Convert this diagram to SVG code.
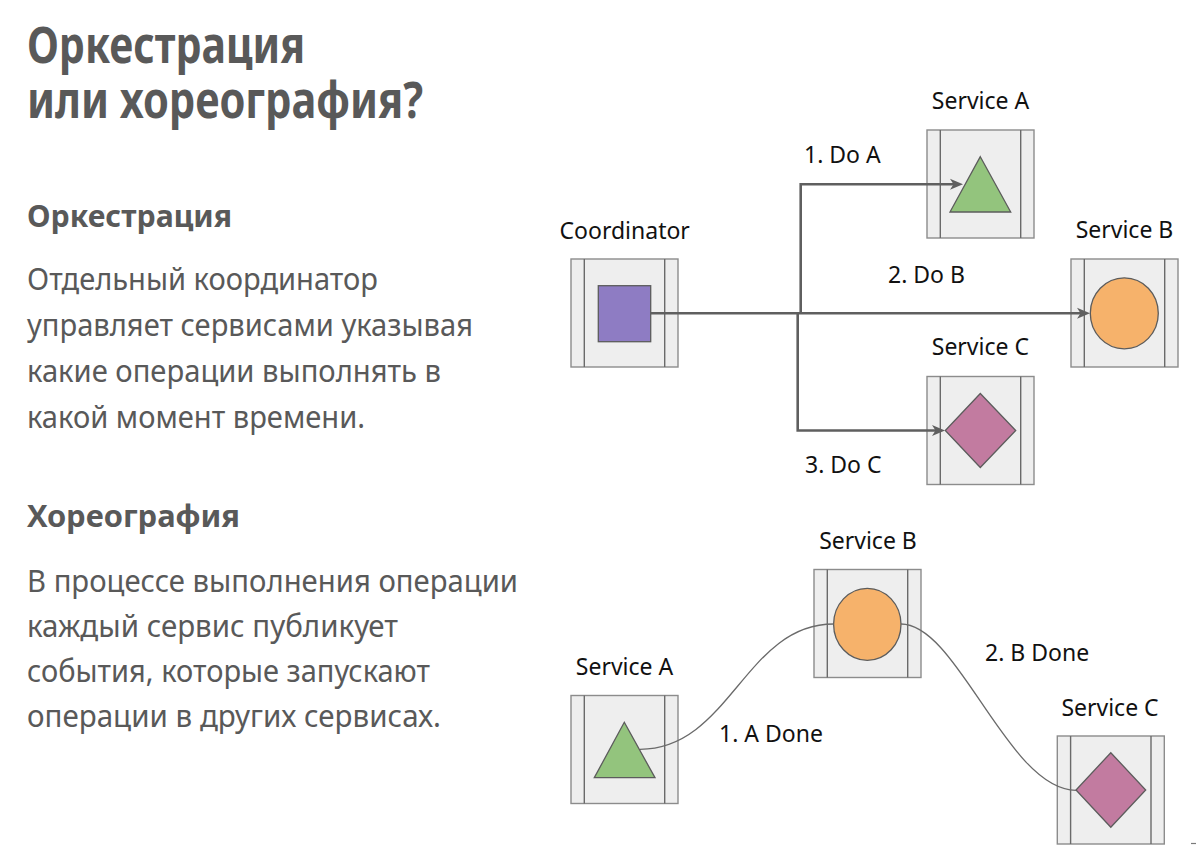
<svg xmlns="http://www.w3.org/2000/svg" width="1198" height="851" viewBox="0 0 1198 851">
  <style>
    .title { font-family: "Noto Sans", "Open Sans", sans-serif; font-weight: 700; font-size: 50px; fill: #595959; }
    .head { font-family: "Noto Sans", "Open Sans", sans-serif; font-weight: 700; font-size: 30px; fill: #595959; }
    .body { font-family: "Noto Sans", "Open Sans", sans-serif; font-size: 30px; fill: #595959; }
    .lbl { font-family: "Noto Sans", "Open Sans", sans-serif; font-size: 23px; fill: #111111; }
    .mid { text-anchor: middle; }
    .frame { fill: #eeeeee; stroke: #8c8c8c; stroke-width: 1.4; }
    .rail { stroke: #6a6a6a; stroke-width: 1.4; fill: none; }
    .shape { stroke: #5c5c5c; stroke-width: 1.3; }
    .cmd { fill: none; stroke: #5f5f5f; stroke-width: 2.6; }
    .evt { fill: none; stroke: #6a6a6a; stroke-width: 1.3; }
  </style>
  <defs>
    <marker id="arrow" markerUnits="userSpaceOnUse" markerWidth="14" markerHeight="12" refX="7" refY="6" orient="auto">
      <path d="M0,0.5 L13,6 L0,11.5 L3.5,6 z" fill="#5f5f5f"/>
    </marker>
    <!-- service container: light panel with two vertical rails -->
    <g id="svcFrame">
      <rect class="frame" x="0" y="0" width="107" height="108"/>
      <line class="rail" x1="13.3" y1="0" x2="13.3" y2="108"/>
      <line class="rail" x1="93.7" y1="0" x2="93.7" y2="108"/>
    </g>
  </defs>

  <rect width="1198" height="851" fill="#ffffff"/>

  <!-- left column text -->
  <g id="text">
    <text class="title" x="27" y="63" textLength="278" lengthAdjust="spacingAndGlyphs">Оркестрация</text>
    <text class="title" x="27" y="118" textLength="396" lengthAdjust="spacingAndGlyphs">или хореография?</text>

    <text class="head" x="27" y="227" textLength="205" lengthAdjust="spacingAndGlyphs">Оркестрация</text>
    <text class="body" x="27" y="290" textLength="351" lengthAdjust="spacingAndGlyphs">Отдельный координатор</text>
    <text class="body" x="27" y="336" textLength="446" lengthAdjust="spacingAndGlyphs">управляет сервисами указывая</text>
    <text class="body" x="27" y="382" textLength="414" lengthAdjust="spacingAndGlyphs">какие операции выполнять в</text>
    <text class="body" x="27" y="428" textLength="338" lengthAdjust="spacingAndGlyphs">какой момент времени.</text>

    <text class="head" x="27" y="527" textLength="213" lengthAdjust="spacingAndGlyphs">Хореография</text>
    <text class="body" x="27" y="592" textLength="491" lengthAdjust="spacingAndGlyphs">В процессе выполнения операции</text>
    <text class="body" x="27" y="637" textLength="371" lengthAdjust="spacingAndGlyphs">каждый сервис публикует</text>
    <text class="body" x="27" y="682" textLength="403" lengthAdjust="spacingAndGlyphs">события, которые запускают</text>
    <text class="body" x="27" y="727" textLength="414" lengthAdjust="spacingAndGlyphs">операции в других сервисах.</text>
  </g>

  <!-- orchestration nodes -->
  <g id="coordinator">
    <text class="lbl mid" x="624.7" y="239">Coordinator</text>
    <use href="#svcFrame" x="571" y="259"/>
    <rect class="shape" x="598.3" y="285.7" width="52.4" height="56" fill="#8e7cc3"/>
  </g>

  <g id="orch-service-a">
    <text class="lbl mid" x="980.5" y="109">Service A</text>
    <use href="#svcFrame" x="927" y="130"/>
    <polygon class="shape" points="980.3,156.7 1010.7,212 950,212" fill="#93c47d"/>
  </g>

  <g id="orch-service-b">
    <text class="lbl mid" x="1124.5" y="238">Service B</text>
    <use href="#svcFrame" x="1071" y="259"/>
    <ellipse class="shape" cx="1124.3" cy="313.3" rx="34" ry="35.5" fill="#f6b26b"/>
  </g>

  <g id="orch-service-c">
    <text class="lbl mid" x="980.4" y="355">Service C</text>
    <use href="#svcFrame" x="927" y="376.5"/>
    <polygon class="shape" points="980.3,393.5 1015.7,430.5 980.3,467.5 945.3,430.5" fill="#c27ba0"/>
  </g>

  <!-- choreography nodes -->
  <g id="chor-service-a">
    <text class="lbl mid" x="624.5" y="675">Service A</text>
    <use href="#svcFrame" x="571" y="695.5"/>
    <polygon class="shape" points="624.3,722.3 655,777.7 594.3,777.7" fill="#93c47d"/>
  </g>

  <g id="chor-service-b">
    <text class="lbl mid" x="868" y="549">Service B</text>
    <use href="#svcFrame" x="814" y="569.5"/>
    <ellipse class="shape" cx="867.3" cy="624.3" rx="33.7" ry="36" fill="#f6b26b"/>
  </g>

  <g id="chor-service-c">
    <text class="lbl mid" x="1110" y="716">Service C</text>
    <use href="#svcFrame" x="1057.3" y="736"/>
    <polygon class="shape" points="1110.8,752.7 1145.7,790 1110.8,827.3 1076,790" fill="#c27ba0"/>
  </g>

  <!-- orchestration: commands from the coordinator, drawn above the panels -->
  <g id="connectors-orchestration">
    <path class="cmd" d="M650.7,313.3 H1084" marker-end="url(#arrow)"/>
    <path class="cmd" d="M800.7,313.3 V184.3 H957" marker-end="url(#arrow)"/>
    <path class="cmd" d="M797.7,313.3 V430.5 H939" marker-end="url(#arrow)"/>
    <text class="lbl" x="804" y="163">1. Do A</text>
    <text class="lbl" x="888" y="283">2. Do B</text>
    <text class="lbl" x="805" y="473">3. Do C</text>
  </g>

  <!-- choreography: events passed between services -->
  <g id="connectors-choreography">
    <path class="evt" d="M640,749.3 C730,749 745,624 833.6,624"/>
    <path class="evt" d="M901,624 C958,624 1008,790 1076,790.3"/>
    <text class="lbl" x="719" y="742">1. A Done</text>
    <text class="lbl" x="985" y="661">2. B Done</text>
  </g>

  <line x1="1191" y1="843.5" x2="1196" y2="843.5" stroke="#7a7a7a" stroke-width="1.2"/>
</svg>
